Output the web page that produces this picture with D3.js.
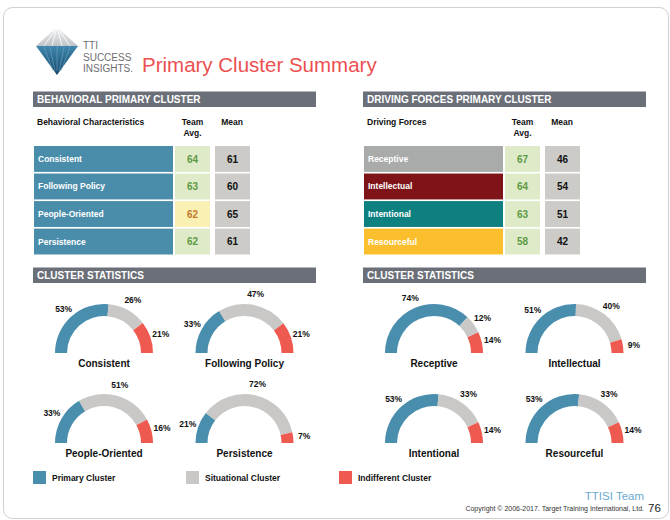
<!DOCTYPE html>
<html>
<head>
<meta charset="utf-8">
<script src="https://cdn.jsdelivr.net/npm/d3@7"></script>
<style>
  body { margin: 0; background: #fff; }
  svg { display: block; font-family: "Liberation Sans", Arial, Helvetica, sans-serif; }
</style>
</head>
<body>
<div class="canvas"></div>
<script>
// ---- data ----
const behaviorNames = ['Consistent', 'Following Policy', 'People-Oriented', 'Persistence']
const behaviorTeam = [64, 63, 62, 62]
const behaviorMean = [61, 60, 65, 61]

const forceNames = ['Receptive', 'Intellectual', 'Intentional', 'Resourceful']
const forceTeam = [67, 64, 63, 58]
const forceMean = [46, 54, 51, 42]

// cluster statistics (percent of team)
const behaviorPrimary = [53, 33, 33, 21]
const behaviorSituational = [26, 47, 51, 72]
const behaviorIndifferent = [21, 21, 16, 7]

const forcePrimary = [74, 51, 53, 53]
const forceSituational = [12, 40, 33, 33]
const forceIndifferent = [14, 9, 14, 14]

const clusterNames = ['Primary Cluster', 'Situational Cluster', 'Indifferent Cluster']

// ---- styles ----
const clusterColors = ['#4a8eae', '#c9c8c6', '#ee5a4f']
const behaviorColors = ['#4a8dab', '#4a8dab', '#4a8dab', '#4a8dab']
const forceColors = ['#a9abaa', '#7e1418', '#0e8080', '#fbbf2e']
const headerGray = '#6b6f78'

const W = 670, H = 520

const svg = d3.select('.canvas').append('svg')
  .attr('width', W)
  .attr('height', H)

// page frame
svg.append('rect')
  .attr('x', 3.5).attr('y', 7.5)
  .attr('width', 665).attr('height', 511)
  .attr('rx', 9)
  .attr('fill', 'none')
  .attr('stroke', '#d0d0d0')

// ---- logo ----
const logo = svg.append('g')
const defs = svg.append('defs')
const blueGrad = defs.append('linearGradient').attr('id', 'blueGrad')
  .attr('x1', 0).attr('x2', 0).attr('y1', 0).attr('y2', 1)
blueGrad.append('stop').attr('offset', 0).attr('stop-color', '#3f86ad')
blueGrad.append('stop').attr('offset', 1).attr('stop-color', '#164a6c')
const iceGrad = defs.append('linearGradient').attr('id', 'iceGrad')
  .attr('x1', 0).attr('x2', 0).attr('y1', 0).attr('y2', 1)
iceGrad.append('stop').attr('offset', 0).attr('stop-color', '#f4f4f4')
iceGrad.append('stop').attr('offset', 1).attr('stop-color', '#bfc3c6')

logo.append('polygon').attr('points', '57,27 36,46 78,46').attr('fill', 'url(#iceGrad)')
logo.selectAll('.facet').data([[57, 27, 44, 46], [57, 27, 52, 46], [57, 27, 62, 46], [57, 27, 70, 46]])
  .enter().append('line')
  .attr('x1', d => d[0]).attr('y1', d => d[1]).attr('x2', d => d[2]).attr('y2', d => d[3])
  .attr('stroke', '#ffffff').attr('stroke-width', 0.8)
logo.append('polygon').attr('points', '36,46 78,46 57,75').attr('fill', 'url(#blueGrad)')
logo.selectAll('.stripe').data([44, 50, 57, 64, 70])
  .enter().append('line')
  .attr('x1', d => d).attr('y1', 47).attr('x2', d => 57 + (d - 57) * 0.3).attr('y2', 71)
  .attr('stroke', '#7fb2cf').attr('stroke-width', 0.7).attr('opacity', 0.7)

logo.selectAll('.brand').data(['TTI', 'SUCCESS', 'INSIGHTS.'])
  .enter().append('text')
  .attr('x', 83)
  .attr('y', (d, i) => 49 + i * 11.5)
  .attr('font-size', 10)
  .attr('fill', '#6d6e71')
  .text(d => d)

svg.append('text')
  .attr('x', 142).attr('y', 72)
  .attr('font-size', 20.5)
  .attr('fill', '#ec5050')
  .text('Primary Cluster Summary')

// ---- section header bar ----
const headerBar = (x, y, label) => {
  svg.append('rect')
    .attr('x', x).attr('y', y)
    .attr('width', 283).attr('height', 15.5)
    .attr('fill', headerGray)
  svg.append('text')
    .attr('x', x + 4).attr('y', y + 11.5)
    .attr('font-size', 10).attr('font-weight', 'bold')
    .attr('fill', '#fff')
    .text(label)
}

// ---- table ----
const drawTable = (x0, title, colTitle, names, team, mean, colors) => {
  headerBar(x0, 91.5, title)
  const g = svg.append('g')

  g.append('text').attr('x', x0 + 4).attr('y', 125)
    .attr('font-size', 8.5).attr('font-weight', 'bold').attr('fill', '#111')
    .text(colTitle)
  g.selectAll('.th').data(['Team', 'Avg.'])
    .enter().append('text')
    .attr('x', x0 + 159.5).attr('y', (d, i) => 125 + i * 10.5)
    .attr('text-anchor', 'middle')
    .attr('font-size', 8.5).attr('font-weight', 'bold').attr('fill', '#111')
    .text(d => d)
  g.append('text').attr('x', x0 + 199).attr('y', 125)
    .attr('text-anchor', 'middle')
    .attr('font-size', 8.5).attr('font-weight', 'bold').attr('fill', '#111')
    .text('Mean')

  const y = d3.scaleBand().domain(names).range([146, 254.5]).paddingInner(0.06)

  const rows = g.selectAll('.row').data(names)
    .enter().append('g').attr('class', 'row')
    .attr('transform', d => `translate(0, ${y(d)})`)

  rows.append('rect')
    .attr('x', x0 + 1).attr('width', 139).attr('height', y.bandwidth())
    .attr('fill', (d, i) => colors[i])
  rows.append('text')
    .attr('x', x0 + 5).attr('y', y.bandwidth() / 2).attr('dy', '0.35em')
    .attr('font-size', 8.5).attr('font-weight', 'bold').attr('fill', '#fff')
    .text(d => d)

  // team average cell: green when above mean, yellow otherwise
  rows.append('rect')
    .attr('x', x0 + 142).attr('width', 35).attr('height', y.bandwidth())
    .attr('fill', (d, i) => team[i] >= mean[i] ? '#dfeac8' : '#fbf0b4')
  rows.append('text')
    .attr('x', x0 + 159.5).attr('y', y.bandwidth() / 2).attr('dy', '0.37em')
    .attr('text-anchor', 'middle')
    .attr('font-size', 10).attr('font-weight', 'bold')
    .attr('fill', (d, i) => team[i] >= mean[i] ? '#5c9a45' : '#c0782c')
    .text((d, i) => team[i])

  rows.append('rect')
    .attr('x', x0 + 182).attr('width', 35).attr('height', y.bandwidth())
    .attr('fill', '#cccbc8')
  rows.append('text')
    .attr('x', x0 + 199.5).attr('y', y.bandwidth() / 2).attr('dy', '0.37em')
    .attr('text-anchor', 'middle')
    .attr('font-size', 10).attr('font-weight', 'bold').attr('fill', '#111')
    .text((d, i) => mean[i])
}

drawTable(33, 'BEHAVIORAL PRIMARY CLUSTER', 'Behavioral Characteristics',
  behaviorNames, behaviorTeam, behaviorMean, behaviorColors)
drawTable(363, 'DRIVING FORCES PRIMARY CLUSTER', 'Driving Forces',
  forceNames, forceTeam, forceMean, forceColors)

// ---- gauges ----
const pie = d3.pie().sort(null).value(d => d)
  .startAngle(-Math.PI / 2).endAngle(Math.PI / 2)
const arc = d3.arc().innerRadius(37).outerRadius(49)
const labelR = 60

const drawGauges = (x0, names, primary, situational, indifferent) => {
  headerBar(x0, 267.5, 'CLUSTER STATISTICS')
  const gx = d3.scalePoint().domain([0, 1]).range([x0 + 71, x0 + 211.5])
  const gy = d3.scalePoint().domain([0, 1]).range([353, 443])

  names.forEach((name, i) => {
    const vals = [primary[i], situational[i], indifferent[i]]
    const g = svg.append('g')
      .attr('transform', `translate(${gx(i % 2)}, ${gy(Math.floor(i / 2))})`)
    const slices = pie(vals)

    g.selectAll('path').data(slices)
      .enter().append('path')
      .attr('d', arc)
      .attr('fill', (d, j) => clusterColors[j])

    g.selectAll('.pct').data(slices)
      .enter().append('text')
      .attr('class', 'pct')
      .attr('x', d => Math.sin((d.startAngle + d.endAngle) / 2) * labelR)
      .attr('y', d => -Math.cos((d.startAngle + d.endAngle) / 2) * labelR)
      .attr('dy', '0.35em')
      .attr('text-anchor', 'middle')
      .attr('font-size', 8.5).attr('font-weight', 'bold').attr('fill', '#111')
      .text(d => d.data + '%')

    g.append('text')
      .attr('y', 13.5)
      .attr('text-anchor', 'middle')
      .attr('font-size', 10).attr('font-weight', 'bold').attr('fill', '#111')
      .text(name)
  })
}

drawGauges(33, behaviorNames, behaviorPrimary, behaviorSituational, behaviorIndifferent)
drawGauges(363, forceNames, forcePrimary, forceSituational, forceIndifferent)

// ---- legend ----
const legendX = d3.scaleOrdinal().domain(clusterNames).range([33, 186, 339])
const legend = svg.selectAll('.legend').data(clusterNames)
  .enter().append('g')
  .attr('transform', d => `translate(${legendX(d)}, 471)`)
legend.append('rect')
  .attr('width', 13).attr('height', 13)
  .attr('fill', (d, i) => clusterColors[i])
legend.append('text')
  .attr('x', 19).attr('y', 10)
  .attr('font-size', 8.5).attr('font-weight', 'bold').attr('fill', '#111')
  .text(d => d)

// ---- footer ----
svg.append('text')
  .attr('x', 644).attr('y', 500)
  .attr('text-anchor', 'end')
  .attr('font-size', 11.5).attr('fill', '#6aaad0')
  .text('TTISI Team')
svg.append('text')
  .attr('x', 644).attr('y', 511)
  .attr('text-anchor', 'end')
  .attr('font-size', 7).attr('fill', '#333')
  .text('Copyright © 2006-2017. Target Training International, Ltd.')
svg.append('text')
  .attr('x', 648).attr('y', 512)
  .attr('font-size', 11.5).attr('fill', '#222')
  .text('76')
</script>
</body>
</html>
